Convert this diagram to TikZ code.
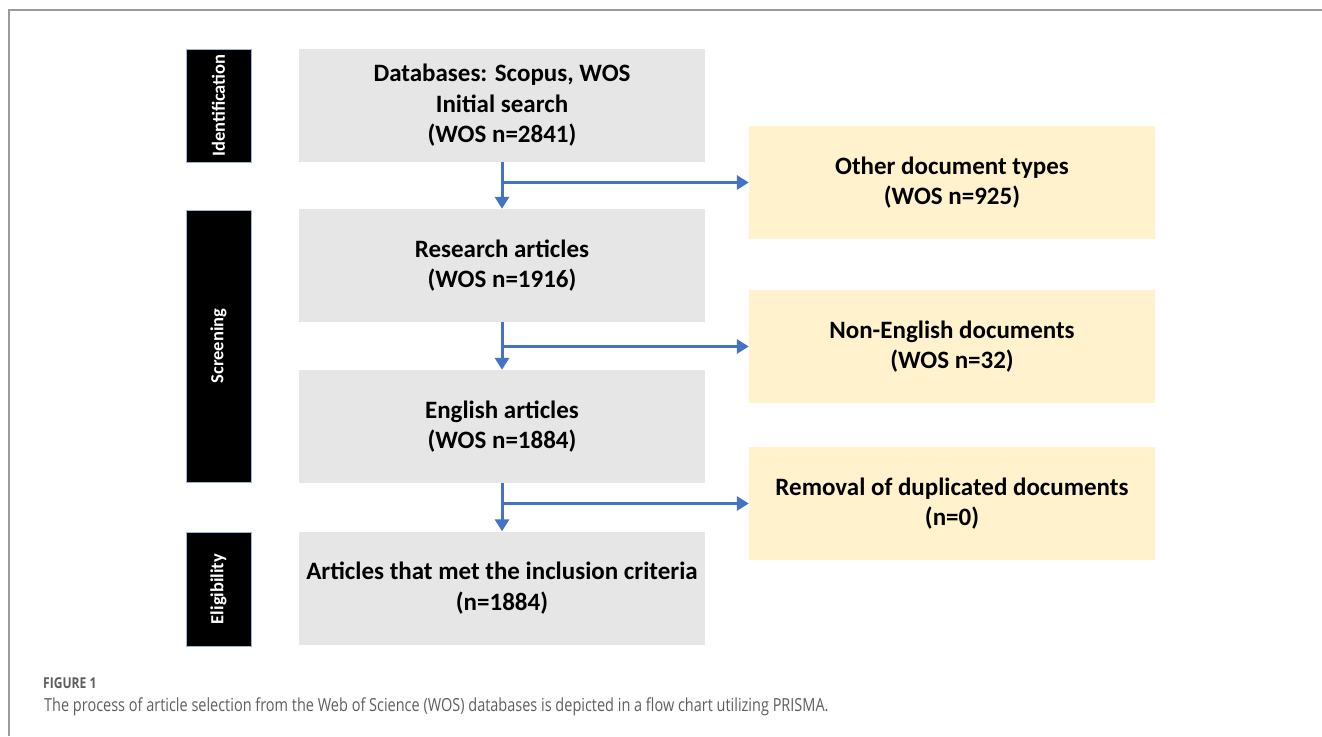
\documentclass[tikz,border=0pt]{standalone}
\usepackage{fontspec}
\setmainfont{Carlito}
\newfontfamily\capfont[FakeStretch=0.805]{Open Sans}
\usetikzlibrary{arrows.meta}
\definecolor{greybox}{HTML}{E7E6E6}
\definecolor{yellowbox}{HTML}{FFF2CC}
\definecolor{arrowblue}{HTML}{4472C4}
\definecolor{captiongrey}{HTML}{5E5E5E}
\definecolor{frameline}{HTML}{9A9A9A}
\definecolor{stageedge}{HTML}{9FB6D0}
\begin{document}
\begin{tikzpicture}[x=1pt,y=-1pt,
  mainbox/.style={rectangle, fill=greybox, minimum width=406pt, minimum height=113pt, align=center, font=\fontsize{25}{30.5}\selectfont\bfseries, inner sep=0pt},
  sidebox/.style={rectangle, fill=yellowbox, minimum width=406pt, minimum height=113pt, align=center, font=\fontsize{25}{30.5}\selectfont\bfseries, inner sep=0pt},
  stagebox/.style={rectangle, fill=black, draw=stageedge, line width=0.6pt, minimum width=65pt, inner sep=0pt},
  stagetext/.style={rotate=90, text=white, font=\fontsize{18.5}{22}\selectfont\bfseries},
  flow/.style={draw=arrowblue, line width=3pt, -{Triangle[length=12pt,width=14pt]}}
]
\useasboundingbox (0,0) rectangle (1322,736);
\draw[frameline, line width=1.2pt] (1322,10) -- (9,10) -- (9,736);

% stage labels
\node[stagebox, minimum height=113pt] (st1) at (218.5,105.5) {};
\node[stagetext] (st1t) at (st1.center) {Identification};
\node[stagebox, minimum height=272pt] (st2) at (218.5,346) {};
\node[stagetext] (st2t) at (st2.center) {Screening};
\node[stagebox, minimum height=114pt] (st3) at (218.5,589) {};
\node[stagetext] (st3t) at (st3.center) {Eligibility};

% main boxes
\node[mainbox] (b1) at (502,105.5) {Databases: Scopus, WOS\\Initial search\\(WOS n=2841)};
\node[mainbox] (b2) at (502,265.5) {Research articles\\(WOS n=1916)};
\node[mainbox] (b3) at (502,426.5) {English articles\\(WOS n=1884)};
\node[mainbox] (b4) at (502,588) {Articles that met the inclusion criteria\\(n=1884)};

% side boxes
\node[sidebox] (y1) at (952,182.5) {Other document types\\(WOS n=925)};
\node[sidebox] (y2) at (952,346.5) {Non-English documents\\(WOS n=32)};
\node[sidebox] (y3) at (952,503.5) {Removal of duplicated documents\\(n=0)};

% connectors
\draw[flow] (b1.south) -- (b2.north);
\coordinate (j1) at (b1.south |- y1.west);
\draw[flow] ([xshift=-1.5pt]j1) -- (y1.west);
\draw[flow] (b2.south) -- (b3.north);
\coordinate (j2) at (b2.south |- y2.west);
\draw[flow] ([xshift=-1.5pt]j2) -- (y2.west);
\draw[flow] (b3.south) -- (b4.north);
\coordinate (j3) at (b3.south |- y3.west);
\draw[flow] ([xshift=-1.5pt]j3) -- (y3.west);

% caption
\node[anchor=west, text=captiongrey, inner sep=0pt, font=\capfont\fontsize{15}{17}\selectfont\bfseries] (cap1) at (43,683) {FIGURE 1};
\node[anchor=west, text=captiongrey, inner sep=0pt, font=\capfont\fontsize{18}{20}\selectfont] (cap2) at (44,707) {The process of article selection from the Web of Science (WOS) databases is depicted in a flow chart utilizing PRISMA.};
\end{tikzpicture}
\end{document}
